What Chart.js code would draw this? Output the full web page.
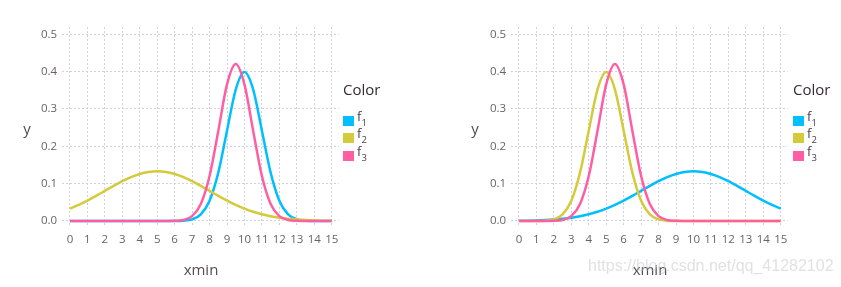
<!DOCTYPE html>
<html>
<head>
<meta charset="utf-8">
<script src="https://cdn.jsdelivr.net/npm/chart.js@4/dist/chart.umd.min.js"></script>
<style>
html,body{margin:0;padding:0;background:#fff;}
#wrap{position:relative;width:841px;height:287px;overflow:hidden;background:#fff;font-family:"Open Sans",sans-serif;}
canvas{position:absolute;top:0;}
.t{position:absolute;white-space:nowrap;line-height:1;}
.ax{font-size:15px;color:#564a55;transform:translate(-50%,-50%);}
.ktitle{font-size:15px;color:#362a35;}
.sw{position:absolute;width:11px;height:10px;}
.kl{position:absolute;font-size:13px;color:#4c404b;white-space:nowrap;line-height:14px;}
.kl sub{font-size:9.5px;vertical-align:-5px;line-height:0;}
.wm{position:absolute;font-family:"Liberation Sans",Arial,sans-serif;font-size:16px;color:rgba(195,195,195,0.5);white-space:nowrap;}
</style>
</head>
<body>
<div id="wrap">
  <canvas id="c1" width="420" height="287" style="left:0;width:420px;height:287px"></canvas>
  <canvas id="c2" width="421" height="287" style="left:420px;width:421px;height:287px"></canvas>
</div>
<script>
// ---- data ----
const xValues = [0,0.5,1,1.5,2,2.5,3,3.5,4,4.5,5,5.5,6,6.5,7,7.5,8,8.5,9,9.5,10,10.5,11,11.5,12,12.5,13,13.5,14,14.5,15];
const xTicks = [0,1,2,3,4,5,6,7,8,9,10,11,12,13,14,15];
const yTicks = [0,0.1,0.2,0.3,0.4,0.5];
const seriesBase = "f";
const seriesIndex = ["1","2","3"];
const legendTitle = "Color";
const xTitle = "xmin";
const yTitle = "y";

// left panel
const leftF1 = [0,0,0,0,0,0,0,0,0,0,0,0,0.0001,0.0009,0.0044,0.0175,0.054,0.1295,0.242,0.3521,0.3989,0.3521,0.242,0.1295,0.054,0.0175,0.0044,0.0009,0.0001,0,0];
const leftF2 = [0.0332,0.0432,0.0547,0.0673,0.0807,0.094,0.1065,0.1174,0.1258,0.1311,0.133,0.1311,0.1258,0.1174,0.1065,0.094,0.0807,0.0673,0.0547,0.0432,0.0332,0.0248,0.018,0.0127,0.0087,0.0058,0.0038,0.0024,0.0015,0.0009,0.0005];
const leftF3 = [0,0,0,0,0,0,0,0,0,0,0,0.0001,0.0005,0.0028,0.0131,0.0456,0.1205,0.2413,0.366,0.4205,0.366,0.2413,0.1205,0.0456,0.0131,0.0028,0.0005,0.0001,0,0,0];

// right panel
const rightF1 = [0.0005,0.0009,0.0015,0.0024,0.0038,0.0058,0.0087,0.0127,0.018,0.0248,0.0332,0.0432,0.0547,0.0673,0.0807,0.094,0.1065,0.1174,0.1258,0.1311,0.133,0.1311,0.1258,0.1174,0.1065,0.094,0.0807,0.0673,0.0547,0.0432,0.0332];
const rightF2 = [0,0,0.0001,0.0009,0.0044,0.0175,0.054,0.1295,0.242,0.3521,0.3989,0.3521,0.242,0.1295,0.054,0.0175,0.0044,0.0009,0.0001,0,0,0,0,0,0,0,0,0,0,0,0];
const rightF3 = [0,0,0,0.0001,0.0005,0.0028,0.0131,0.0456,0.1205,0.2413,0.366,0.4205,0.366,0.2413,0.1205,0.0456,0.0131,0.0028,0.0005,0.0001,0,0,0,0,0,0,0,0,0,0,0];

// ---- styles ----
const colors = ["#00BFFF", "#D4CA3A", "#FF5FA2"];
const gridColor = "#D0D0E0";
const tickColor = "#6c606b";
const tickFont = {family: "Open Sans", size: 11.5};

function pts(arr){ return xValues.map((x,i)=>({x:x, y:arr[i]})); }

function makeChart(id, series, yWidth, padRight){
  const datasets = series.map((s,i)=>({
    label: seriesBase + seriesIndex[i],
    data: pts(s),
    borderColor: colors[i],
    backgroundColor: colors[i],
    borderWidth: 2.5,
    pointRadius: 0,
    fill: false,
    cubicInterpolationMode: 'monotone',
    order: 3 - i
  }));
  return new Chart(document.getElementById(id), {
    type: 'line',
    data: {datasets},
    options: {
      responsive: false,
      animation: false,
      devicePixelRatio: 1,
      layout: {padding: {left: 0, right: padRight, top: 27, bottom: 0}},
      plugins: {legend: {display: false}, tooltip: {enabled: false}},
      scales: {
        x: {
          type: 'linear', min: -0.45, max: 15.4,
          afterBuildTicks: s => { s.ticks = xTicks.map(v => ({value: v})); },
          afterFit: s => { s.height = 61; },
          grid: {color: gridColor, lineWidth: 1, drawTicks: false},
          border: {display: false, dash: [2, 2]},
          ticks: {padding: 7, color: tickColor, font: tickFont, maxRotation: 0, autoSkip: false,
                  callback: v => String(v)}
        },
        y: {
          type: 'linear', min: -0.0134, max: 0.5196,
          afterBuildTicks: s => { s.ticks = yTicks.map(v => ({value: v})); },
          afterFit: s => { s.width = yWidth; },
          grid: {color: gridColor, lineWidth: 1, drawTicks: false},
          border: {display: false, dash: [2, 2]},
          ticks: {padding: 5, color: tickColor, font: tickFont, autoSkip: false,
                  callback: v => Number(v).toFixed(1)}
        }
      }
    }
  });
}

makeChart('c1', [leftF1, leftF2, leftF3], 62.1, 81.3);
makeChart('c2', [rightF1, rightF2, rightF3], 91.1, 53.3);

// ---- titles and legends (HTML, for subscripts) ----
const wrap = document.getElementById('wrap');
function addText(cls, text, left, top){
  const d = document.createElement('div');
  d.className = 't ' + cls;
  d.textContent = text;
  d.style.left = left + 'px';
  d.style.top = top + 'px';
  wrap.appendChild(d);
  return d;
}
function addLegend(x){
  addText('ktitle', legendTitle, x, 82);
  const tops = [115.5, 133, 151];
  seriesIndex.forEach((idx, i) => {
    const sw = document.createElement('div');
    sw.className = 'sw';
    sw.style.left = x + 'px';
    sw.style.top = tops[i] + 'px';
    sw.style.background = colors[i];
    wrap.appendChild(sw);
    const kl = document.createElement('div');
    kl.className = 'kl';
    kl.style.left = (x + 14) + 'px';
    kl.style.top = (tops[i] - 7) + 'px';
    kl.innerHTML = seriesBase + '<sub>' + idx + '</sub>';
    wrap.appendChild(kl);
  });
}
addText('ax', yTitle, 27, 128);
addText('ax', yTitle, 475, 128);
addText('ax', xTitle, 201, 269);
addText('ax', xTitle, 650, 269);
addLegend(343);
addLegend(793);

const wm = document.createElement('div');
wm.className = 'wm';
wm.textContent = 'https://blog.csdn.net/qq_41282102';
wm.style.left = '588px';
wm.style.top = '257px';
wrap.appendChild(wm);
</script>
</body>
</html>
